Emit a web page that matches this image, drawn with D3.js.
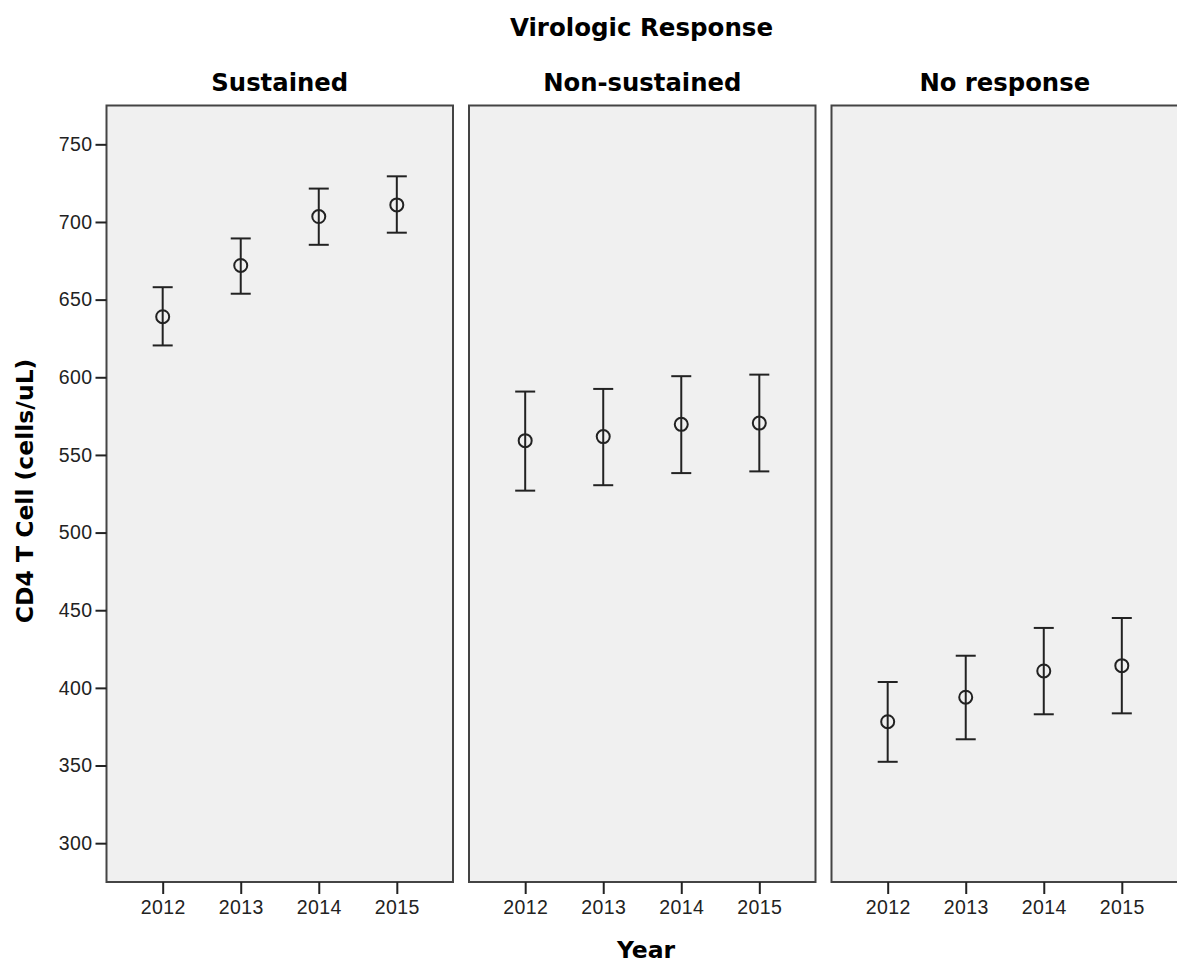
<!DOCTYPE html>
<html>
<head>
<meta charset="utf-8">
<script src="https://cdn.jsdelivr.net/npm/d3@7"></script>
<style>
  html, body { margin: 0; padding: 0; background: #ffffff; }
  svg { display: block; }
</style>
</head>
<body>
<svg id="chart" width="1177" height="967"></svg>
<script>
// ---- data ----
const years = ["2012", "2013", "2014", "2015"];
const groups = ["Sustained", "Non-sustained", "No response"];
const yTicks = [300, 350, 400, 450, 500, 550, 600, 650, 700, 750];

const sustainedMean  = [639, 672, 703.5, 711];
const sustainedLow   = [620.5, 653.8, 685.3, 693.1];
const sustainedHigh  = [658, 689.4, 721.5, 729.4];

const nonSustMean    = [559.2, 561.8, 569.7, 570.5];
const nonSustLow     = [527, 530.5, 538.3, 539.4];
const nonSustHigh    = [590.8, 592.5, 600.7, 601.7];

const noRespMean     = [378.2, 394, 410.9, 414.3];
const noRespLow      = [352.4, 366.9, 383, 383.6];
const noRespHigh     = [403.8, 420.7, 438.6, 445];

const title = "Virologic Response";
const xTitle = "Year";
const yTitle = "CD4 T Cell (cells/uL)";

const series = [
  { name: groups[0], mean: sustainedMean, low: sustainedLow, high: sustainedHigh },
  { name: groups[1], mean: nonSustMean,   low: nonSustLow,   high: nonSustHigh },
  { name: groups[2], mean: noRespMean,    low: noRespLow,    high: noRespHigh }
];

// ---- layout ----
const svg = d3.select("#chart");
const panelTop = 105.5, panelBottom = 882;
const panelW = 346.5, panelGap = 16;
const firstLeft = 106.5;

const y = d3.scaleLinear().domain([275, 775]).range([panelBottom, panelTop]);

const titleFont = "'DejaVu Sans', Verdana, sans-serif";
const tickFont = "'Liberation Sans', Arial, sans-serif";

svg.append("text")
  .attr("x", 641.5).attr("y", 36)
  .attr("text-anchor", "middle")
  .attr("font-family", titleFont).attr("font-weight", "bold")
  .attr("font-size", 24.5)
  .attr("fill", "#000")
  .text(title);

series.forEach((s, i) => {
  const left = firstLeft + i * (panelW + panelGap);
  const x = d3.scalePoint().domain(years).range([left, left + panelW]).padding(0.72);
  const g = svg.append("g");

  g.append("rect")
    .attr("x", left).attr("y", panelTop)
    .attr("width", panelW).attr("height", panelBottom - panelTop)
    .attr("fill", "#f0f0f0")
    .attr("stroke", "#444").attr("stroke-width", 2);

  g.append("text")
    .attr("x", left + panelW / 2).attr("y", 91)
    .attr("text-anchor", "middle")
    .attr("font-family", titleFont).attr("font-weight", "bold")
    .attr("font-size", 24.3)
    .attr("fill", "#000")
    .text(s.name);

  // x axis
  const xAxis = d3.axisBottom(x).tickSize(12).tickPadding(6);
  const xg = g.append("g").attr("transform", `translate(0,${panelBottom})`).call(xAxis);
  xg.select(".domain").remove();
  xg.selectAll(".tick line").attr("stroke", "#222").attr("stroke-width", 2);
  xg.selectAll(".tick text")
    .attr("font-family", tickFont).attr("font-size", 19.5)
    .attr("letter-spacing", 0.4)
    .attr("fill", "#222");

  // y axis on first panel
  if (i === 0) {
    const yAxis = d3.axisLeft(y).tickValues(yTicks).tickSize(11).tickPadding(3);
    const yg = g.append("g").attr("transform", `translate(${left},0)`).call(yAxis);
    yg.select(".domain").remove();
    yg.selectAll(".tick line").attr("stroke", "#222").attr("stroke-width", 2);
    yg.selectAll(".tick text")
      .attr("font-family", tickFont).attr("font-size", 19.5)
      .attr("letter-spacing", 0.4)
      .attr("fill", "#222");
  }

  // error bars
  const capHalf = 10;
  years.forEach((yr, j) => {
    const cx = x(yr);
    g.append("line")
      .attr("x1", cx).attr("x2", cx)
      .attr("y1", y(s.low[j])).attr("y2", y(s.high[j]))
      .attr("stroke", "#222").attr("stroke-width", 2);
    [s.low[j], s.high[j]].forEach(v => {
      g.append("line")
        .attr("x1", cx - capHalf).attr("x2", cx + capHalf)
        .attr("y1", y(v)).attr("y2", y(v))
        .attr("stroke", "#222").attr("stroke-width", 2);
    });
    g.append("circle")
      .attr("cx", cx).attr("cy", y(s.mean[j]))
      .attr("r", 6.5)
      .attr("fill", "none")
      .attr("stroke", "#222").attr("stroke-width", 2);
  });
});

svg.append("text")
  .attr("x", 646).attr("y", 958)
  .attr("text-anchor", "middle")
  .attr("font-family", titleFont).attr("font-weight", "bold")
  .attr("font-size", 23.5)
  .attr("fill", "#000")
  .text(xTitle);

svg.append("text")
  .attr("transform", `translate(33,491) rotate(-90)`)
  .attr("text-anchor", "middle")
  .attr("font-family", titleFont).attr("font-weight", "bold")
  .attr("font-size", 23.5)
  .attr("fill", "#000")
  .text(yTitle);
</script>
</body>
</html>
